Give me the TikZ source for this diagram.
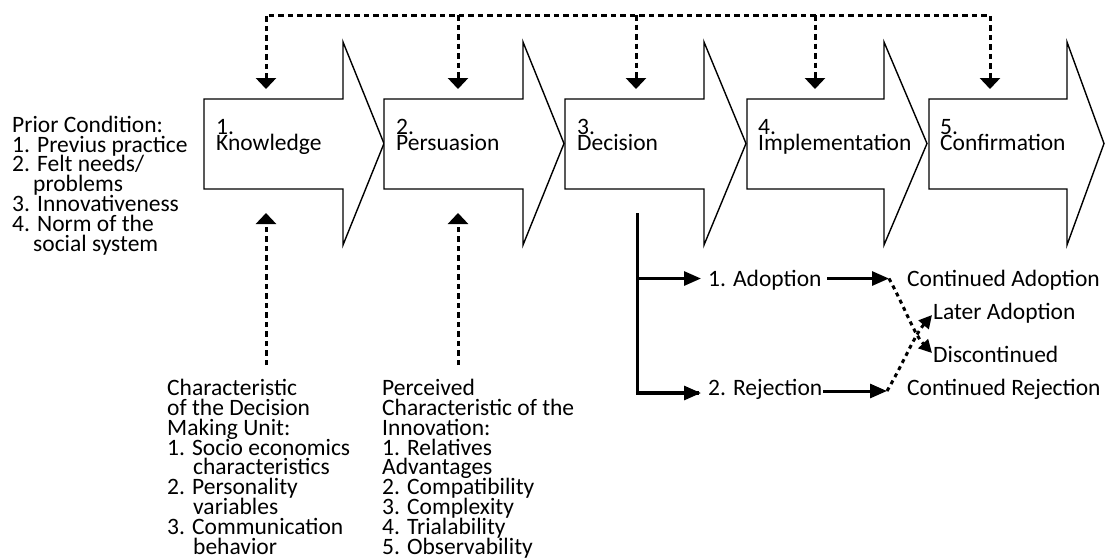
\documentclass[tikz,border=0pt]{standalone}
\usepackage{fontspec}
\setmainfont{Carlito}
\usetikzlibrary{arrows.meta}
\lineskiplimit=-100pt
\begin{document}
\begin{tikzpicture}[x=1pt,y=-1pt,
  stage/.style={draw=black,line width=1.4pt,fill=white,line join=miter},
  lbl/.style={inner sep=0pt,anchor=base west,align=left,
    font=\fontsize{23.5}{19.8}\selectfont},
  stagelbl/.style={inner sep=0pt,anchor=base west,align=left,
    font=\fontsize{23.5}{16}\selectfont},
  fbtip/.tip={Triangle[width=20pt,length=11pt]},
  feedback/.style={line width=3pt,dash pattern=on 5.5pt off 4pt},
  branchline/.style={line width=3.5pt},
  branch/.style={line width=3pt,-{Triangle[width=14pt,length=17pt]}},
  outcome/.style={line width=3pt,dash pattern=on 4pt off 4pt,-{Triangle[width=13pt,length=13pt]}},
]
\useasboundingbox[fill=white] (0,0) rectangle (1105,558);

% stage arrows
\foreach \L/\H/\T in {204/343/384, 384/523/564, 565/704/746, 747/884/927, 929/1067/1104}{
  \draw[stage] (\L,99) -- (\H,99) -- (\H,42) -- (\T,143.5) -- (\H,245) -- (\H,189) -- (\L,189) -- cycle;
}

% stage labels (anchored at the baseline of the last line)
\node[stagelbl] (know) at (216,150) {1.\\Knowledge};
\node[stagelbl] (pers) at (396,150) {2.\\Persuasion};
\node[stagelbl] (deci) at (577,150) {3.\\Decision};
\node[stagelbl] (impl) at (758,150) {4.\\Implementation};
\node[stagelbl] (conf) at (940,150) {5.\\Confirmation};

% feedback bus coordinates
\coordinate (kin) at (266,89);
\coordinate (pin) at (458,89);
\coordinate (din) at (636,89);
\coordinate (iin) at (815,89);
\coordinate (cin) at (990,89);
\coordinate (kbus) at (266,15);
\coordinate (pbus) at (458,15);
\coordinate (dbus) at (636,15);
\coordinate (ibus) at (815,15);
\coordinate (cbus) at (990,15);

\draw[feedback,{fbtip}-{fbtip}] (kin) -- (kbus) -- (cbus) -- (cin);
\draw[feedback,-{fbtip}] (pbus) -- (pin);
\draw[feedback,-{fbtip}] (dbus) -- (din);
\draw[feedback,-{fbtip}] (ibus) -- (iin);

% prior condition
\node[lbl] (prior) at (12,251) {Prior Condition:\\1. Previus practice\\2. Felt needs/\\\hspace*{21pt}problems\\3. Innovativeness\\4. Norm of the\\\hspace*{21pt}social system};

% bottom characteristics
\node[lbl] (dmu) at (167,554) {Characteristic\\of the Decision\\Making Unit:\\1. Socio economics\\\hspace*{26pt}characteristics\\2. Personality\\\hspace*{26pt}variables\\3. Communication\\\hspace*{26pt}behavior};
\node[lbl] (pci) at (382,554) {Perceived\\Characteristic of the\\Innovation:\\1. Relatives\\Advantages\\2. Compatibility\\3. Complexity\\4. Trialability\\5. Observability};

\coordinate (dmusrc) at (266,365);
\coordinate (pcisrc) at (458,365);
\coordinate (kbot) at (266,213);
\coordinate (pbot) at (458,213);
\draw[feedback,-{fbtip}] (dmusrc) -- (kbot);
\draw[feedback,-{fbtip}] (pcisrc) -- (pbot);

% decision branches
\node[lbl] (adopt) at (708,286) {1. Adoption};
\node[lbl] (reject) at (708,395) {2. Rejection};
\node[lbl] (contA) at (907,286) {Continued Adoption};
\node[lbl] (contR) at (907,395) {Continued Rejection};
\node[lbl] (later) at (933,319) {Later Adoption};
\node[lbl] (disc) at (933,362.5) {Discontinued};

\coordinate (dtop) at (637.5,213);
\coordinate (dbot) at (637.5,393);
\coordinate (d1) at (637.5,278.5);
\coordinate (a1) at (701,278.5);
\coordinate (a2) at (701,393);
\draw[branchline] (dtop) -- (dbot) -- ([xshift=-2pt]a2);
\draw[branch] (d1) -- (a1);
\draw[branch] ([xshift=-1.75pt]dbot) -- (a2);

\coordinate (adoptout) at (827,278.5);
\coordinate (adoptend) at (889,278.5);
\coordinate (rejectout) at (823,391);
\coordinate (rejectend) at (887,391);
\draw[branch] (adoptout) -- (adoptend);
\draw[branch] (rejectout) -- (rejectend);

\coordinate (discend) at (932,353);
\coordinate (laterend) at (932,315);
\draw[outcome] (adoptend) .. controls (906,310) and (914,334) .. (discend);
\draw[outcome] (rejectend) .. controls (904,362) and (914,336) .. (laterend);
\end{tikzpicture}
\end{document}
